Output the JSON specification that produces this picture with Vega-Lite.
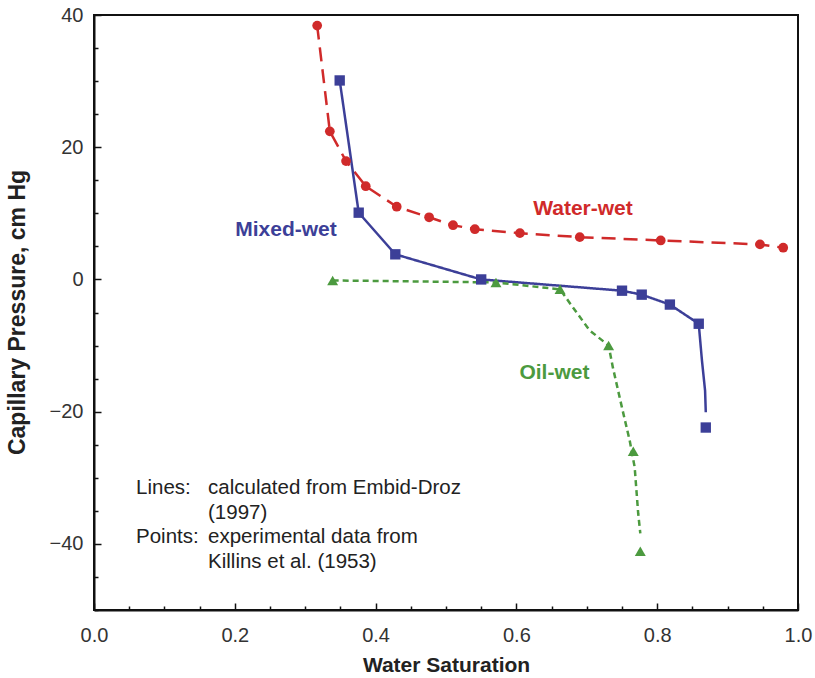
{
  "$schema": "https://vega.github.io/schema/vega-lite/v6.json",
  "width": 704,
  "height": 595,
  "autosize": "none",
  "padding": {"left": 94, "top": 15, "right": 17, "bottom": 68},
  "background": "white",
  "config": {
    "font": "Liberation Sans",
    "view": {"stroke": "#111", "strokeWidth": 2},
    "axis": {
      "domainColor": "#111", "domainWidth": 2, "grid": false,
      "labelFont": "Liberation Sans", "labelFontSize": 20, "labelColor": "#333",
      "tickColor": "#111", "tickWidth": 1.5,
      "titleFont": "Liberation Sans", "titleFontWeight": "bold", "titleColor": "#222"
    }
  },
  "datasets": {
    "lines": [
      {"series": "Water-wet", "sw": 0.317, "pc": 38.4},
      {"series": "Water-wet", "sw": 0.335, "pc": 22.4},
      {"series": "Water-wet", "sw": 0.358, "pc": 17.9},
      {"series": "Water-wet", "sw": 0.386, "pc": 14.1},
      {"series": "Water-wet", "sw": 0.430, "pc": 11.0},
      {"series": "Water-wet", "sw": 0.476, "pc": 9.4},
      {"series": "Water-wet", "sw": 0.510, "pc": 8.2},
      {"series": "Water-wet", "sw": 0.541, "pc": 7.6},
      {"series": "Water-wet", "sw": 0.605, "pc": 7.0},
      {"series": "Water-wet", "sw": 0.690, "pc": 6.4},
      {"series": "Water-wet", "sw": 0.805, "pc": 5.9},
      {"series": "Water-wet", "sw": 0.946, "pc": 5.3},
      {"series": "Water-wet", "sw": 0.979, "pc": 4.8},
      {"series": "Mixed-wet", "sw": 0.349, "pc": 30.1},
      {"series": "Mixed-wet", "sw": 0.376, "pc": 10.1},
      {"series": "Mixed-wet", "sw": 0.428, "pc": 3.8},
      {"series": "Mixed-wet", "sw": 0.550, "pc": 0.0},
      {"series": "Mixed-wet", "sw": 0.750, "pc": -1.7},
      {"series": "Mixed-wet", "sw": 0.778, "pc": -2.3},
      {"series": "Mixed-wet", "sw": 0.818, "pc": -3.8},
      {"series": "Mixed-wet", "sw": 0.859, "pc": -6.7},
      {"series": "Mixed-wet", "sw": 0.8636, "pc": -12.3},
      {"series": "Mixed-wet", "sw": 0.868, "pc": -16.8},
      {"series": "Mixed-wet", "sw": 0.869, "pc": -20.1},
      {"series": "Oil-wet", "sw": 0.339, "pc": -0.15},
      {"series": "Oil-wet", "sw": 0.571, "pc": -0.45},
      {"series": "Oil-wet", "sw": 0.662, "pc": -1.5},
      {"series": "Oil-wet", "sw": 0.676, "pc": -3.6},
      {"series": "Oil-wet", "sw": 0.704, "pc": -7.7},
      {"series": "Oil-wet", "sw": 0.731, "pc": -10.0},
      {"series": "Oil-wet", "sw": 0.737, "pc": -13.3},
      {"series": "Oil-wet", "sw": 0.750, "pc": -19.4},
      {"series": "Oil-wet", "sw": 0.761, "pc": -24.4},
      {"series": "Oil-wet", "sw": 0.768, "pc": -28.4},
      {"series": "Oil-wet", "sw": 0.773, "pc": -35.4},
      {"series": "Oil-wet", "sw": 0.776, "pc": -38.4}
    ],
    "points": [
      {"series": "Water-wet", "sw": 0.317, "pc": 38.4},
      {"series": "Water-wet", "sw": 0.335, "pc": 22.4},
      {"series": "Water-wet", "sw": 0.358, "pc": 17.9},
      {"series": "Water-wet", "sw": 0.386, "pc": 14.1},
      {"series": "Water-wet", "sw": 0.430, "pc": 11.0},
      {"series": "Water-wet", "sw": 0.476, "pc": 9.4},
      {"series": "Water-wet", "sw": 0.510, "pc": 8.2},
      {"series": "Water-wet", "sw": 0.541, "pc": 7.6},
      {"series": "Water-wet", "sw": 0.605, "pc": 7.0},
      {"series": "Water-wet", "sw": 0.690, "pc": 6.4},
      {"series": "Water-wet", "sw": 0.805, "pc": 5.9},
      {"series": "Water-wet", "sw": 0.946, "pc": 5.3},
      {"series": "Water-wet", "sw": 0.979, "pc": 4.8},
      {"series": "Mixed-wet", "sw": 0.349, "pc": 30.1},
      {"series": "Mixed-wet", "sw": 0.376, "pc": 10.1},
      {"series": "Mixed-wet", "sw": 0.428, "pc": 3.8},
      {"series": "Mixed-wet", "sw": 0.550, "pc": 0.0},
      {"series": "Mixed-wet", "sw": 0.750, "pc": -1.7},
      {"series": "Mixed-wet", "sw": 0.778, "pc": -2.3},
      {"series": "Mixed-wet", "sw": 0.818, "pc": -3.8},
      {"series": "Mixed-wet", "sw": 0.859, "pc": -6.7},
      {"series": "Mixed-wet", "sw": 0.869, "pc": -22.4},
      {"series": "Oil-wet", "sw": 0.339, "pc": -0.15},
      {"series": "Oil-wet", "sw": 0.571, "pc": -0.45},
      {"series": "Oil-wet", "sw": 0.662, "pc": -1.5},
      {"series": "Oil-wet", "sw": 0.731, "pc": -10.0},
      {"series": "Oil-wet", "sw": 0.766, "pc": -26.0},
      {"series": "Oil-wet", "sw": 0.776, "pc": -41.1}
    ],
    "labels": [
      {"series": "Water-wet", "sw": 0.6946, "pc": 9.7},
      {"series": "Mixed-wet", "sw": 0.2727, "pc": 6.5},
      {"series": "Oil-wet", "sw": 0.654, "pc": -15.0}
    ],
    "notes": [
      {"sw": 0.0597, "pc": -32.4, "text": "Lines:"},
      {"sw": 0.162, "pc": -32.4, "text": "calculated from Embid-Droz"},
      {"sw": 0.162, "pc": -36.2, "text": "(1997)"},
      {"sw": 0.0597, "pc": -39.9, "text": "Points:"},
      {"sw": 0.162, "pc": -39.9, "text": "experimental data from"},
      {"sw": 0.162, "pc": -43.7, "text": "Killins et al. (1953)"}
    ]
  },
  "encoding": {
    "x": {
      "field": "sw", "type": "quantitative",
      "scale": {"domain": [0, 1], "nice": false, "zero": false},
      "axis": {
        "title": "Water Saturation", "titleFontSize": 21,
        "titleY": 61, "titleBaseline": "alphabetic",
        "values": [0,0.05,0.1,0.15,0.2,0.25,0.3,0.35,0.4,0.45,0.5,0.55,0.6,0.65,0.7,0.75,0.8,0.85,0.9,0.95,1],
        "format": ".1f",
        "labelExpr": "abs(datum.value*10 - round(datum.value*10)) < 0.001 && round(datum.value*10) % 2 === 0 ? datum.label : ''",
        "tickSize": {"condition": {"test": "abs(datum.value*10 - round(datum.value*10)) < 0.001 && round(datum.value*10) % 2 === 0", "value": -7}, "value": -4},
        "labelPadding": 22, "labelFlush": false, "labelOverlap": false
      }
    },
    "y": {
      "field": "pc", "type": "quantitative",
      "scale": {"domain": [-50, 40], "nice": false, "zero": false},
      "axis": {
        "title": "Capillary Pressure, cm Hg", "titleFontSize": 23,
        "titleX": -70, "titleY": 297, "titleBaseline": "alphabetic",
        "values": [-50,-45,-40,-35,-30,-25,-20,-15,-10,-5,0,5,10,15,20,25,30,35,40],
        "labelExpr": "datum.value % 20 === 0 ? datum.label : ''",
        "tickSize": {"condition": {"test": "datum.value % 20 === 0", "value": -7}, "value": -4},
        "labelPadding": 18, "labelOverlap": false, "labelFlush": false
      }
    }
  },
  "layer": [
    {
      "data": {"name": "lines"},
      "mark": {"type": "line", "strokeWidth": 2.5},
      "encoding": {
        "order": {"field": "pc", "type": "quantitative", "sort": "descending"},
        "color": {"field": "series", "type": "nominal", "legend": null,
          "scale": {"domain": ["Water-wet", "Mixed-wet", "Oil-wet"], "range": ["#d02a2a", "#3c3f98", "#4c9a3f"]}},
        "strokeDash": {"field": "series", "type": "nominal", "legend": null,
          "scale": {"domain": ["Water-wet", "Mixed-wet", "Oil-wet"], "range": [[14, 8], [1, 0], [6, 4]]}}
      }
    },
    {
      "data": {"name": "points"},
      "mark": {"type": "point", "filled": true, "opacity": 1},
      "encoding": {
        "color": {"field": "series", "type": "nominal", "legend": null},
        "shape": {"field": "series", "type": "nominal", "legend": null,
          "scale": {"domain": ["Water-wet", "Mixed-wet", "Oil-wet"], "range": ["circle", "square", "triangle-up"]}},
        "size": {"field": "series", "type": "nominal", "legend": null,
          "scale": {"domain": ["Water-wet", "Mixed-wet", "Oil-wet"], "range": [95, 120, 90]}}
      }
    },
    {
      "data": {"name": "labels"},
      "mark": {"type": "text", "fontSize": 21, "fontWeight": "bold", "align": "center", "baseline": "alphabetic"},
      "encoding": {
        "text": {"field": "series"},
        "color": {"field": "series", "type": "nominal", "legend": null}
      }
    },
    {
      "data": {"name": "notes"},
      "mark": {"type": "text", "fontSize": 20.5, "align": "left", "baseline": "alphabetic", "color": "#222"},
      "encoding": {
        "text": {"field": "text"}
      }
    }
  ]
}
